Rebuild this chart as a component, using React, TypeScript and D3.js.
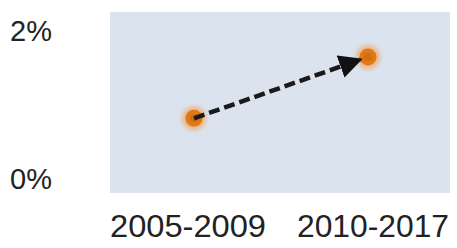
import React from "react";
import * as d3 from "d3";

const categories = ["2005-2009", "2010-2017"];
const values = [0.82, 1.65];
const yTicks = [0, 2];

export default function App() {
  const W = 457, H = 248;
  const x = d3.scalePoint<string>().domain(categories).range([194, 368]);
  const y = d3.scaleLinear().domain([0, 2]).range([179, 31]);
  const plot = { x0: 110, x1: 450, y0: 12, y1: 193 };
  const p1 = { x: x(categories[0])!, y: y(values[0]) };
  const p2 = { x: x(categories[1])!, y: y(values[1]) };
  const dx = p2.x - p1.x, dy = p2.y - p1.y;
  const len = Math.sqrt(dx * dx + dy * dy);
  const shorten = 8;
  const ex = p2.x - (dx / len) * shorten, ey = p2.y - (dy / len) * shorten;
  const font = "'Liberation Sans', Arial, sans-serif";
  return (
    <svg width={W} height={H} style={{ position: "absolute", left: 0, top: 0, background: "#fff" }}>
      <defs>
        <marker id="ah" viewBox="0 0 10 10" refX="9" refY="5" markerWidth="5.2" markerHeight="5.2" orient="auto" markerUnits="strokeWidth">
          <path d="M0,0 L10,5 L0,10 Z" fill="#111" />
        </marker>
        <filter id="glow" x="-1" y="-1" width="3" height="3">
          <feGaussianBlur stdDeviation="2" />
        </filter>
      </defs>
      <rect x={plot.x0} y={plot.y0} width={plot.x1 - plot.x0} height={plot.y1 - plot.y0} fill="#dbe3ef" />
      {categories.map((c, i) => (
        <g key={c}>
          <circle cx={x(c)} cy={y(values[i])} r={12} fill="#f3a55a" opacity={0.7} filter="url(#glow)" />
          <circle cx={x(c)} cy={y(values[i])} r={8.5} fill="#e07815" />
          <circle cx={x(c)} cy={y(values[i])} r={4} fill="#c9650d" opacity={0.6} />
        </g>
      ))}
      <line x1={p1.x} y1={p1.y} x2={ex} y2={ey} stroke="#1a1a1a" strokeWidth={4.5} strokeDasharray="11,5" markerEnd="url(#ah)" />
      {yTicks.map((t) => (
        <text key={t} x={10} y={y(t)} dy="0.35em" fontFamily={font} fontSize={29} fill="#222">
          {t + "%"}
        </text>
      ))}
      {categories.map((c, i) => (
        <text key={c} x={i === 0 ? 110 : 297} y={237} textLength={i === 0 ? 156 : 152} lengthAdjust="spacingAndGlyphs" fontFamily={font} fontSize={31} fill="#222">
          {c}
        </text>
      ))}
    </svg>
  );
}
